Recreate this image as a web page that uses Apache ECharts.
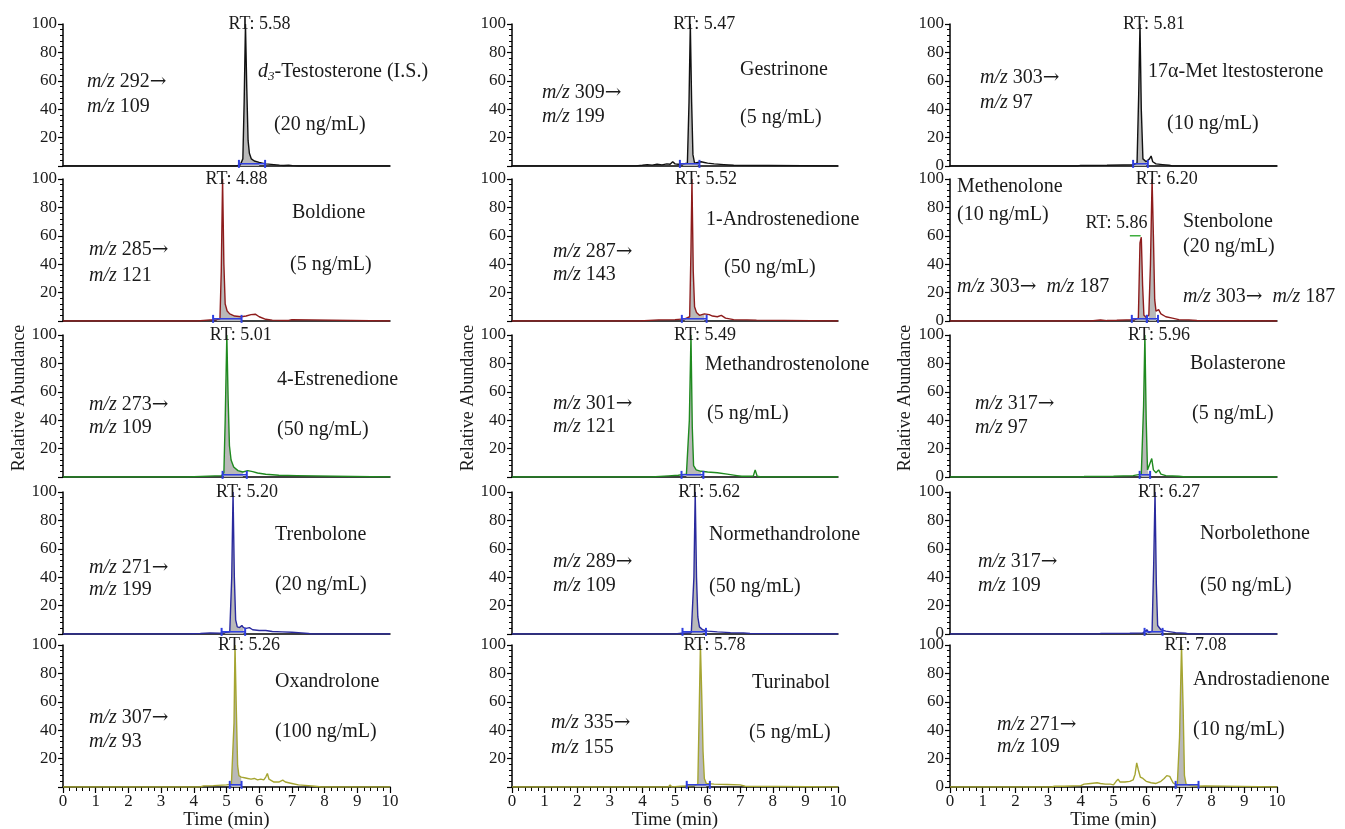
<!DOCTYPE html>
<html>
<head>
<meta charset="utf-8">
<title>SRM chromatograms</title>
<script src="https://cdn.jsdelivr.net/npm/echarts@6/dist/echarts.min.js"></script>
<style>
  html, body { margin: 0; padding: 0; background: #fff; }
  #main { width: 1345px; height: 829px; }
</style>
</head>
<body>
<div id="main"></div>
<script>
// chromatogram traces: [time (min), relative abundance (%)]
var d3Testosterone = [[0,0],[5.3,0],[5.42,0.8],[5.5,5],[5.54,45],[5.58,100],[5.62,55],[5.66,18],[5.7,9],[5.76,5],[5.85,3.5],[6.0,2.5],[6.2,1.5],[6.45,1],[6.62,0.6],[6.68,1.5],[6.75,0.4],[6.9,0.6],[6.96,1.6],[7.02,0.3],[7.2,0],[10,0]];
var boldione = [[0,0],[4.1,0],[4.15,0.6],[4.5,0.8],[4.7,1],[4.8,1.5],[4.84,35],[4.88,100],[4.92,40],[4.96,12],[5.02,7],[5.1,5],[5.25,3.5],[5.45,3],[5.6,3.5],[5.75,4.5],[5.88,4.8],[6.0,3],[6.2,1.2],[6.4,0.6],[6.9,0.4],[7.0,1],[7.05,0],[10,0]];
var estrenedione = [[0,0],[3.8,0],[3.85,1],[4.85,1],[4.92,3],[4.96,40],[5.01,100],[5.05,55],[5.09,22],[5.14,12],[5.22,7],[5.35,4.5],[5.5,3.5],[5.65,4.5],[5.8,3.8],[5.95,2.8],[6.2,1.9],[6.6,1.2],[7.15,1],[7.2,0],[10,0]];
var trenbolone = [[0,0],[3.65,0],[3.7,0.8],[3.75,0],[4.2,0.4],[4.5,0.8],[4.8,0.6],[4.95,1],[5.1,1.5],[5.16,40],[5.2,100],[5.24,40],[5.28,10],[5.33,5],[5.4,4.5],[5.47,6],[5.52,4.5],[5.6,4],[5.7,4.5],[5.8,3],[6.0,2.5],[6.2,2.5],[6.4,1.8],[6.7,1.5],[7.0,1.2],[7.3,0.8],[7.5,0.4],[7.6,0],[10,0]];
var oxandrolone = [[0,0],[4.2,0],[4.3,0.8],[4.6,1],[5.0,1.5],[5.15,2],[5.2,3],[5.23,45],[5.26,100],[5.3,55],[5.34,15],[5.38,8],[5.45,7],[5.5,8],[5.55,6.5],[5.65,6],[5.75,5.5],[5.85,6],[5.95,5],[6.05,5.5],[6.14,5],[6.2,7],[6.25,9.5],[6.3,5.5],[6.45,3.5],[6.6,3.5],[6.72,4.8],[6.8,3.5],[7.0,2.5],[7.2,1.5],[7.5,1],[7.7,0.5],[7.9,0],[10,0]];
var gestrinone = [[0,0],[3.8,0],[3.85,0.8],[4.0,0.5],[4.15,1],[4.3,0.6],[4.45,1.2],[4.6,0.8],[4.75,1.5],[4.85,1.2],[4.93,3],[5.0,1.5],[5.1,1.2],[5.25,1.5],[5.38,2],[5.43,45],[5.47,100],[5.51,45],[5.55,8],[5.6,2],[5.7,2.5],[5.8,3],[5.9,2.5],[6.0,2],[6.2,1.5],[6.5,1],[6.8,0.5],[6.85,0],[10,0]];
var androstenedione = [[0,0],[3.9,0],[3.95,0.8],[4.5,0.8],[5.0,1],[5.3,1.5],[5.45,3],[5.49,50],[5.52,100],[5.56,35],[5.6,10],[5.66,6],[5.75,4],[5.9,5],[6.05,4.5],[6.15,3.5],[6.3,3],[6.42,4],[6.55,2],[6.8,1],[7.2,0.8],[7.5,0.6],[7.55,0],[10,0]];
var methandrostenolone = [[0,0],[4.27,0],[4.32,0.5],[4.8,0.8],[5.1,1.2],[5.35,2],[5.44,40],[5.49,100],[5.53,35],[5.57,8],[5.65,5],[5.8,4],[6.0,3.5],[6.3,3],[6.6,2],[6.9,1],[7.05,0.5],[7.4,0.5],[7.46,5],[7.52,0.5],[7.65,0],[10,0]];
var normethandrolone = [[0,0],[5.0,0],[5.2,0.5],[5.5,1],[5.58,40],[5.62,100],[5.66,40],[5.7,12],[5.75,5],[5.85,3],[6.0,2],[6.3,1.5],[6.7,1],[7.1,0.8],[7.3,0.4],[7.35,0],[10,0]];
var turinabol = [[0,0],[4.8,0],[4.85,1.5],[4.9,0],[5.2,0.5],[5.6,1],[5.7,2],[5.74,50],[5.78,100],[5.82,65],[5.86,25],[5.9,6],[5.96,2.5],[6.2,2],[6.6,1.8],[7.0,1.5],[7.05,2],[7.15,0.5],[7.2,0],[10,0]];
var methyltestosterone = [[0,0],[3.9,0],[4.0,0.4],[4.8,0.5],[5.3,0.8],[5.6,1],[5.72,2],[5.77,50],[5.81,100],[5.85,40],[5.9,5],[6.0,3],[6.1,5],[6.15,7],[6.2,3],[6.3,1.5],[6.5,1],[6.7,0.5],[6.8,0],[10,0]];
var methenoloneStenbolone = [[0,0],[4.3,0],[4.35,0.5],[4.6,0.7],[4.8,0.3],[5.1,0.5],[5.4,0.8],[5.65,1],[5.76,2],[5.81,55],[5.85,59],[5.89,25],[5.93,4],[6.0,2.5],[6.08,4],[6.13,40],[6.18,100],[6.22,60],[6.26,15],[6.3,7],[6.38,8],[6.45,5],[6.6,3],[6.8,2],[7.0,1],[7.3,0.8],[7.55,0.4],[7.6,0],[10,0]];
var bolasterone = [[0,0],[4.0,0],[4.1,0.3],[5.0,0.5],[5.6,1],[5.85,2],[5.92,50],[5.96,100],[6.0,40],[6.04,5],[6.1,6],[6.17,13],[6.22,5],[6.3,3],[6.38,5],[6.45,2],[6.6,1],[7.0,0.5],[7.2,0],[10,0]];
var norbolethone = [[0,0],[4.5,0],[4.6,0.3],[5.5,0.5],[5.9,0.8],[6.02,3],[6.08,1],[6.18,2],[6.23,50],[6.27,100],[6.31,35],[6.35,6],[6.45,3],[6.6,2],[6.9,1],[7.2,0.5],[7.3,0],[10,0]];
var androstadienone = [[0,0],[3.1,0],[3.2,0.5],[3.5,0.5],[4.0,1],[4.1,2],[4.3,2.5],[4.5,3],[4.6,2.5],[4.75,2],[4.9,2],[5.0,1.5],[5.08,4],[5.14,5.5],[5.2,3.5],[5.35,3.5],[5.5,4],[5.6,5],[5.66,9],[5.71,17],[5.76,12],[5.82,7],[5.9,6],[6.0,4],[6.15,3],[6.3,2.5],[6.45,4],[6.55,6],[6.63,8],[6.72,7.5],[6.82,3],[6.95,1],[7.02,35],[7.08,100],[7.13,55],[7.17,8],[7.22,2],[7.35,1],[7.6,0.5],[7.8,0.8],[7.85,0],[10,0]];

// retention times labelled on each panel
var rtList = [[5.58],[4.88],[5.01],[5.20],[5.26],[5.47],[5.52],[5.49],[5.62],[5.78],[5.81],[5.86,6.20],[5.96],[6.27],[7.08]];
// integration windows (min)
var integList = [[[5.38,6.18]],[[4.59,5.46]],[[4.88,5.62]],[[4.85,5.57]],[[5.1,5.46]],
                 [[5.15,5.75]],[[5.21,5.97]],[[5.2,5.87]],[[5.23,5.95]],[[5.36,6.07]],
                 [[5.6,6.05]],[[5.56,6.02],[6.02,6.36]],[[5.8,6.12]],[[5.95,6.5]],[[6.9,7.6]]];
var methenoloneApex = [[5.5,60],[5.83,60]];
var yTicks = [0, 20, 40, 60, 80, 100];
var xTicks = [0, 1, 2, 3, 4, 5, 6, 7, 8, 9, 10];

var traces = [d3Testosterone, boldione, estrenedione, trenbolone, oxandrolone,
              gestrinone, androstenedione, methandrostenolone, normethandrolone, turinabol,
              methyltestosterone, methenoloneStenbolone, bolasterone, norbolethone, androstadienone];

var FONT = '"Liberation Serif", "Times New Roman", serif';
var TXT = '#1a1a1a';
var rowColors = ['#111111', '#8e1c1c', '#1f8a1f', '#2a2a9e', '#a5a531'];
var colLeft = [63, 512, 950], colWidth = [327, 326, 327];
var rowTop = [24, 179, 335, 492, 645], plotH = 142;

var grids = [], xAxes = [], yAxes = [], series = [];

traces.forEach(function (data, i) {
  var col = Math.floor(i / 5), row = i % 5, bottom = row === 4;
  var color = rowColors[row];
  grids.push({ left: colLeft[col], top: rowTop[row], width: colWidth[col], height: plotH });
  xAxes.push({
    type: 'value', gridIndex: i, min: xTicks[0], max: xTicks[xTicks.length - 1], interval: 1,
    axisLine: { show: true, lineStyle: { color: '#000', width: 1.5 } },
    axisTick: { show: bottom, length: 6, lineStyle: { color: '#000', width: 1.2 } },
    minorTick: { show: bottom, splitNumber: 5, length: 4, lineStyle: { color: '#000', width: 1 } },
    axisLabel: { show: bottom, fontSize: 17, fontFamily: FONT, color: TXT, margin: 6 },
    splitLine: { show: false }
  });
  yAxes.push({
    type: 'value', gridIndex: i, min: yTicks[0], max: yTicks[yTicks.length - 1], interval: 20,
    axisLine: { show: true, lineStyle: { color: '#000', width: 1.5 } },
    axisTick: { show: true, length: 5, lineStyle: { color: '#000', width: 1.2 } },
    minorTick: { show: true, splitNumber: 5, length: 3, lineStyle: { color: '#000', width: 1 } },
    axisLabel: {
      fontSize: 17, fontFamily: FONT, color: TXT, margin: 6,
      formatter: function (v) { return (v === 0 && col < 2) ? '' : String(v); }
    },
    splitLine: { show: false }
  });

  // grey integrated area
  integList[i].forEach(function (r) {
    series.push({
      type: 'line', xAxisIndex: i, yAxisIndex: i, z: 1, silent: true,
      data: data.filter(function (p) { return p[0] >= r[0] && p[0] <= r[1]; }),
      showSymbol: false, lineStyle: { width: 0 },
      areaStyle: { color: '#b9b9b9', opacity: 1 }
    });
  });

  // RT labels
  var marks = rtList[i].map(function (rt) {
    var top = 0;
    data.forEach(function (p) { if (Math.abs(p[0] - rt) < 0.06) top = Math.max(top, p[1]); });
    var label = 'RT: ' + rt.toFixed(2);
    if (top > 90) {
      return { coord: [rt, 100], label: { position: 'right', distance: 0, offset: [-17, 0], formatter: label } };
    }
    return { coord: [rt, top + 10], label: { position: 'left', distance: 0, offset: [6, 0], formatter: label } };
  });

  series.push({
    type: 'line', xAxisIndex: i, yAxisIndex: i, z: 3, data: data,
    showSymbol: false, lineStyle: { color: color, width: 1.4 }, itemStyle: { color: color },
    markPoint: {
      symbol: 'circle', symbolSize: 0, silent: true,
      label: { show: true, fontSize: 18, fontFamily: FONT, color: TXT },
      data: marks
    }
  });

  // integration baseline markers
  integList[i].forEach(function (r) {
    series.push({
      type: 'line', xAxisIndex: i, yAxisIndex: i, z: 4, silent: true,
      data: [[r[0], 1.5], [r[1], 1.5]],
      symbol: 'rect', symbolSize: [2, 8], showSymbol: true,
      lineStyle: { color: '#2f3fe0', width: 1.5 }, itemStyle: { color: '#2f3fe0' }
    });
  });
});

series.push({
  type: 'line', xAxisIndex: 11, yAxisIndex: 11, z: 4, silent: true,
  data: methenoloneApex, showSymbol: false,
  lineStyle: { color: '#3fae3f', width: 1.4 }
});

// panel annotations (positions in px)
var notes = [
  { mz: ['292', '109'], mzAt: [87, 82, 107], name: '{i|d}{sub|3}-Testosterone (I.S.)', nameAt: [258, 72], conc: '(20 ng/mL)', concAt: [274, 125] },
  { mz: ['285', '121'], mzAt: [89, 250, 276], name: 'Boldione', nameAt: [292, 213], conc: '(5 ng/mL)', concAt: [290, 265] },
  { mz: ['273', '109'], mzAt: [89, 405, 428], name: '4-Estrenedione', nameAt: [277, 380], conc: '(50 ng/mL)', concAt: [277, 430] },
  { mz: ['271', '199'], mzAt: [89, 568, 590], name: 'Trenbolone', nameAt: [275, 535], conc: '(20 ng/mL)', concAt: [275, 585] },
  { mz: ['307', '93'], mzAt: [89, 718, 742], name: 'Oxandrolone', nameAt: [275, 682], conc: '(100 ng/mL)', concAt: [275, 732] },
  { mz: ['309', '199'], mzAt: [542, 93, 117], name: 'Gestrinone', nameAt: [740, 70], conc: '(5 ng/mL)', concAt: [740, 118] },
  { mz: ['287', '143'], mzAt: [553, 252, 275], name: '1-Androstenedione', nameAt: [706, 220], conc: '(50 ng/mL)', concAt: [724, 268] },
  { mz: ['301', '121'], mzAt: [553, 404, 427], name: 'Methandrostenolone', nameAt: [705, 365], conc: '(5 ng/mL)', concAt: [707, 414] },
  { mz: ['289', '109'], mzAt: [553, 562, 586], name: 'Normethandrolone', nameAt: [709, 535], conc: '(50 ng/mL)', concAt: [709, 587] },
  { mz: ['335', '155'], mzAt: [551, 723, 748], name: 'Turinabol', nameAt: [752, 683], conc: '(5 ng/mL)', concAt: [749, 733] },
  { mz: ['303', '97'], mzAt: [980, 78, 103], name: '17α-Met ltestosterone', nameAt: [1148, 72], conc: '(10 ng/mL)', concAt: [1167, 124] },
  null,
  { mz: ['317', '97'], mzAt: [975, 404, 428], name: 'Bolasterone', nameAt: [1190, 364], conc: '(5 ng/mL)', concAt: [1192, 414] },
  { mz: ['317', '109'], mzAt: [978, 562, 586], name: 'Norbolethone', nameAt: [1200, 534], conc: '(50 ng/mL)', concAt: [1200, 586] },
  { mz: ['271', '109'], mzAt: [997, 725, 747], name: 'Androstadienone', nameAt: [1193, 680], conc: '(10 ng/mL)', concAt: [1193, 730] }
];

var rich = {
  i: { fontStyle: 'italic', fontSize: 20, fontFamily: FONT, fill: TXT },
  arr: { fontSize: 20, fontFamily: '"DejaVu Serif", serif', fill: TXT },
  sub: { fontStyle: 'italic', fontSize: 13, fontFamily: FONT, fill: TXT, verticalAlign: 'bottom', padding: [10, 0, 0, 0] }
};
function txt(s, x, y, size) {
  return {
    type: 'text', x: x, y: y, silent: true,
    style: { text: s, rich: rich, fontSize: size || 20, fontFamily: FONT, fill: TXT, align: 'left', verticalAlign: 'middle' }
  };
}

var graphics = [];
notes.forEach(function (n) {
  if (!n) return;
  graphics.push(txt('{i|m/z} ' + n.mz[0] + '{arr|→}', n.mzAt[0], n.mzAt[1]));
  graphics.push(txt('{i|m/z} ' + n.mz[1], n.mzAt[0], n.mzAt[2]));
  graphics.push(txt(n.name, n.nameAt[0], n.nameAt[1]));
  graphics.push(txt(n.conc, n.concAt[0], n.concAt[1]));
});
graphics.push(txt('Methenolone', 957, 187));
graphics.push(txt('(10 ng/mL)', 957, 215));
graphics.push(txt('{i|m/z} 303{arr|→}  {i|m/z} 187', 957, 287));
graphics.push(txt('Stenbolone', 1183, 222));
graphics.push(txt('(20 ng/mL)', 1183, 247));
graphics.push(txt('{i|m/z} 303{arr|→}  {i|m/z} 187', 1183, 297));

[19, 468, 905].forEach(function (x) {
  graphics.push({
    type: 'text', x: x, y: 398, rotation: Math.PI / 2, silent: true,
    style: { text: 'Relative Abundance', fontSize: 18, fontFamily: FONT, fill: TXT, align: 'center', verticalAlign: 'middle' }
  });
});
[0, 1, 2].forEach(function (c) {
  graphics.push({
    type: 'text', x: colLeft[c] + colWidth[c] / 2, y: 820, silent: true,
    style: { text: 'Time (min)', fontSize: 19, fontFamily: FONT, fill: TXT, align: 'center', verticalAlign: 'middle' }
  });
});

var chart = echarts.init(document.getElementById('main'));
chart.setOption({
  animation: false,
  backgroundColor: '#fff',
  grid: grids,
  xAxis: xAxes,
  yAxis: yAxes,
  series: series,
  graphic: graphics
});
</script>
</body>
</html>
